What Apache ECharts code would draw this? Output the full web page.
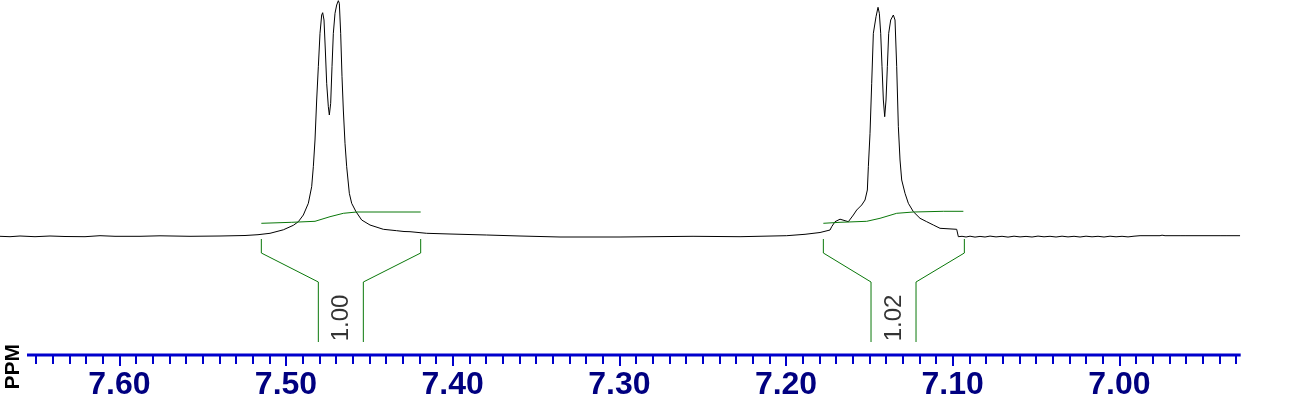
<!DOCTYPE html>
<html>
<head>
<meta charset="utf-8">
<script src="https://cdn.jsdelivr.net/npm/echarts@6/dist/echarts.min.js"></script>
<style>
html,body{margin:0;padding:0;background:#fff;}
#chart{width:1292px;height:412px;}
</style>
</head>
<body>
<div id="chart"></div>
<script>
// ---- data (ppm, intensity in arbitrary units; baseline = 0) ----
const specPpm = [7.6716,7.6656,7.6596,7.6506,7.6416,7.6326,7.6206,7.6116,7.6026,7.5876,7.5756,7.5576,7.5396,7.5246,7.5168,7.5096,7.5016,7.4956,7.4926,7.4896,7.4866,7.4846,7.4836,7.4826,7.4816,7.4806,7.4796,7.4786,7.4780,7.4772,7.4764,7.4756,7.4746,7.4740,7.4732,7.4724,7.4716,7.4706,7.4696,7.4686,7.4680,7.4672,7.4664,7.4656,7.4646,7.4636,7.4620,7.4606,7.4580,7.4546,7.4496,7.4416,7.4336,7.4292,7.4256,7.4156,7.4016,7.3796,7.3596,7.3356,7.2996,7.2558,7.2276,7.1996,7.1886,7.1796,7.1736,7.1726,7.1706,7.1676,7.1646,7.1626,7.1596,7.1576,7.1546,7.1526,7.1512,7.1506,7.1496,7.1486,7.1476,7.1460,7.1448,7.1440,7.1432,7.1424,7.1416,7.1408,7.1400,7.1392,7.1384,7.1372,7.1356,7.1346,7.1336,7.1326,7.1316,7.1306,7.1286,7.1266,7.1236,7.1196,7.1156,7.1116,7.1076,7.0976,7.0966,7.0944,7.0920,7.0896,7.0866,7.0836,7.0806,7.0776,7.0740,7.0704,7.0668,7.0632,7.0596,7.0560,7.0524,7.0488,7.0452,7.0416,7.0380,7.0344,7.0308,7.0272,7.0236,7.0200,7.0164,7.0128,7.0092,7.0056,7.0020,6.9984,6.9948,6.9912,6.9876,6.9756,6.9744,6.9726,6.9636,6.9624,6.9606,6.9396,6.9384,6.9360,6.9276];
const specInt = [-0.3,-0.7,0,-0.7,0,-0.5,-0.7,0.3,-0.3,-0.3,0.2,-0.3,0,0.5,1.3,2.7,6.2,10.7,14.3,21,32.7,49.3,69.3,96,136,169.3,202.7,221,223.3,216,186,152.7,129.3,121,132.7,169.3,202.7,222.7,231,235.3,232.7,202.7,159.3,126,92.7,69.3,42.7,32.7,24.3,16,11,6.7,5.3,4.5,4.3,2.7,2,1,0,-1,-1,-0.3,-0.7,0.3,1.7,3.5,6,9.3,14.3,16.8,15.3,14.3,21,26,31,36,46,69.3,102.7,152.7,202.7,219.3,228.7,222.7,202.7,169.3,136,119.3,136,169.3,202.7,216,221,216,169.3,109.3,76,56,42.7,32.7,24.3,17.7,14.3,11,7.7,6.7,-0.7,-0.3,-1.0,-0.2,-1.1,-0.4,-1.0,-0.1,-0.9,-0.3,-1.1,-0.2,-0.9,-0.4,-1.0,-0.1,-0.8,-0.3,-1.0,-0.2,-0.9,-0.3,-1.0,-0.2,-0.8,-0.3,-1.0,-0.2,-0.8,-0.3,-0.9,-0.2,0.3,0.3,0.8,0.3,0.3,0.8,0.3,0.3,0.7,0.3,0.3];

// integral curves
const int1Ppm = [7.5148,7.4966,7.4826,7.4736,7.4656,7.4576,7.4192];
const int1Val = [12.7,13.7,14.7,19.3,22.7,24,24];
const int2Ppm = [7.1776,7.1676,7.1516,7.1436,7.1336,7.1236,7.1056,7.0936];
const int2Val = [12.7,13.7,14.7,17.7,22.7,24,24.7,24.7];

// integral brackets: [outer left, inner left, inner right, outer right] ppm
const bracket1Ppm = [7.5148,7.4806,7.4536,7.4192];
const bracket2Ppm = [7.1776,7.1490,7.1220,7.0930];
const bracketLevels = [-3,-17,-46,-106];

// integral values and their label positions
const integralLabels = ['1.00','1.02'];
const integralLabelPpm = [7.4666,7.1352];
const integralLabelVal = [-82,-82];

// axis
const majorTicks = [7.60,7.50,7.40,7.30,7.20,7.10,7.00];
const tickLabels = ['7.60','7.50','7.40','7.30','7.20','7.10','7.00'];
const viewMin = 6.9272, viewMax = 7.6716;      // plotted range (right, left)
const scaleStart = 7.6554, scaleEnd = 6.9272;  // extent of the drawn scale bar
const yMin = -119, yMax = 236;

// ---- build ----
const minorTicks = [];
for (let i = 693; i <= 765; i++) minorTicks.push(i / 100);

const zip = (a, b) => a.map((v, i) => [v, b[i]]);
const bracketHalf = (p, outer, inner) => bracketLevels.map((lv, i) => [i < 2 ? p[outer] : p[inner], lv]);

const green = '#0A780A';
const blue = '#0000CC';
const lineSeries = (data, color, extra) => Object.assign({
  type: 'line', data, symbol: 'none', clip: false, silent: true,
  lineStyle: {color, width: 1}, xAxisIndex: 0, yAxisIndex: 0
}, extra || {});

const chart = echarts.init(document.getElementById('chart'), null, {renderer: 'canvas'});
chart.setOption({
  animation: false,
  backgroundColor: '#ffffff',
  grid: {left: 0, right: 51.3, top: 0, bottom: 57},
  xAxis: [{
    type: 'value', min: viewMin, max: viewMax, inverse: true, position: 'bottom', z: 10,
    axisLine: {show: false, onZero: false},
    axisTick: {show: true, customValues: majorTicks, length: 11, lineStyle: {color: blue, width: 2}},
    axisLabel: {show: true, customValues: majorTicks,
      formatter: v => tickLabels[majorTicks.findIndex(t => Math.abs(t - v) < 1e-6)] || '',
      color: '#000080', fontSize: 32, fontWeight: 'bold', fontFamily: 'Liberation Sans, Arial, sans-serif', margin: 14},
    splitLine: {show: false}
  }, {
    type: 'value', min: viewMin, max: viewMax, inverse: true, position: 'bottom', gridIndex: 0,
    axisLine: {show: false, onZero: false},
    axisTick: {show: true, customValues: minorTicks, length: 9, lineStyle: {color: blue, width: 2}},
    axisLabel: {show: false},
    splitLine: {show: false}
  }],
  yAxis: {type: 'value', min: yMin, max: yMax, show: false},
  series: [
    lineSeries([[scaleStart, yMin], [scaleEnd, yMin]], blue, {lineStyle: {color: blue, width: 3}, z: 5}),
    lineSeries(zip(specPpm, specInt), '#000000'),
    lineSeries(zip(int1Ppm, int1Val), green),
    lineSeries(zip(int2Ppm, int2Val), green),
    lineSeries(bracketHalf(bracket1Ppm, 0, 1), green),
    lineSeries(bracketHalf(bracket1Ppm, 3, 2), green),
    lineSeries(bracketHalf(bracket2Ppm, 0, 1), green),
    lineSeries(bracketHalf(bracket2Ppm, 3, 2), green),
    {
      type: 'scatter', silent: true, symbolSize: 1, itemStyle: {color: 'rgba(0,0,0,0)'},
      data: integralLabels.map((t, i) => ({value: [integralLabelPpm[i], integralLabelVal[i]], name: t})),
      label: {show: true, position: 'inside', rotate: 90, formatter: p => p.name,
        color: '#000000', fontSize: 24, fontFamily: 'Liberation Sans, Arial, sans-serif'}
    }
  ],
  graphic: [{
    type: 'text', left: 3, top: 344, rotation: Math.PI / 2,
    style: {text: 'PPM', fill: '#000000', font: 'bold 21px "Liberation Sans", Arial, sans-serif'}
  }]
});
</script>
</body>
</html>
